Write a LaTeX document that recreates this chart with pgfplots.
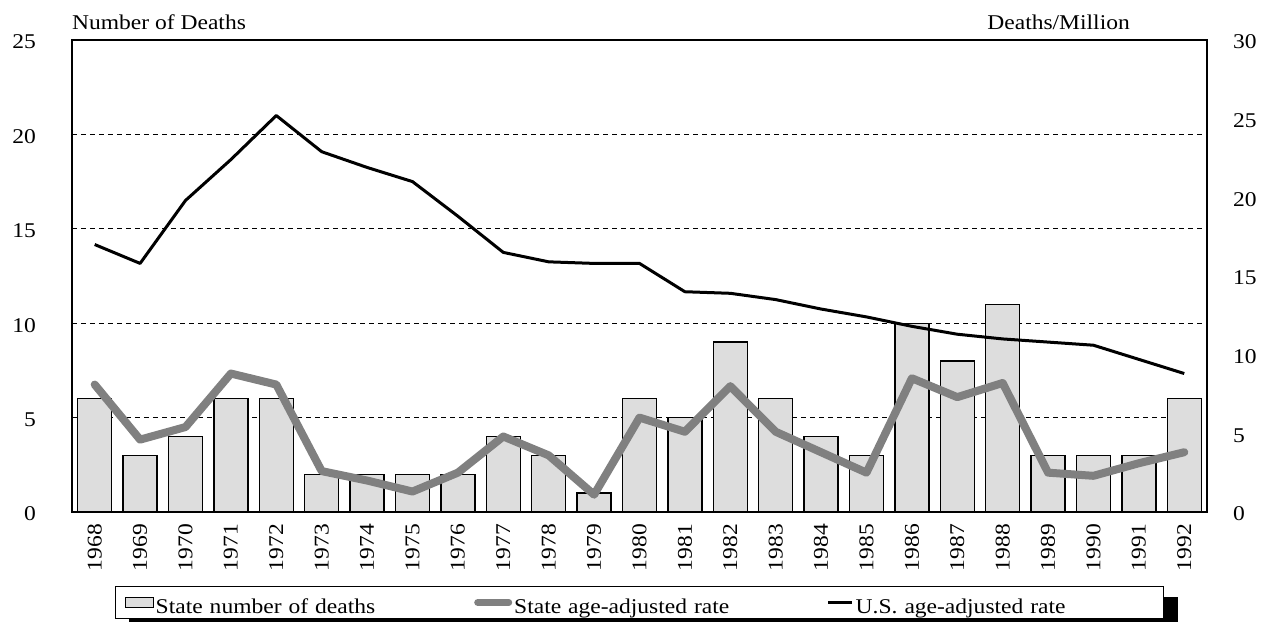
\documentclass[border=0pt]{standalone}
\usepackage{fontspec}
\setmainfont{Liberation Serif}[FakeStretch=1.12]
\usepackage{pgfplots}
\usepackage{pgfplotstable}
\pgfplotsset{compat=1.18}
\usetikzlibrary{calc}
\definecolor{barfill}{HTML}{DDDDDD}
\definecolor{stategray}{HTML}{808080}
\pgfplotstableread{
i n state us
0 6 8.1 17.0
1 3 4.6 15.8
2 4 5.4 19.8
3 6 8.8 22.4
4 6 8.1 25.2
5 2 2.6 22.9
6 2 2.0 21.9
7 2 1.3 21.0
8 2 2.5 18.8
9 4 4.8 16.5
10 3 3.6 15.9
11 1 1.1 15.8
12 6 6.0 15.8
13 5 5.1 14.0
14 9 8.0 13.9
15 6 5.1 13.5
16 4 3.8 12.9
17 3 2.5 12.4
18 10 8.5 11.8
19 8 7.3 11.3
20 11 8.2 11.0
21 3 2.5 10.8
22 3 2.3 10.6
23 3 3.1 9.7
24 6 3.8 8.8
}\datatable
\begin{document}
\fontsize{21bp}{25bp}\selectfont
\begin{tikzpicture}
\pgfplotsset{
  common/.style={
    scale only axis, width=1135bp, height=472bp,
    xmin=-0.5, xmax=24.5,
    major tick length=0pt,
    /pgf/number format/assume math mode=true,
    tick label style={font=\fontsize{21bp}{25bp}\selectfont},
    axis line style={line width=1.5bp},
  }
}
\begin{axis}[common, name=a,
  ymin=0, ymax=25, ytick={0,5,...,25},
  ymajorgrids, grid style={black, line width=1.4bp, dash pattern=on 5bp off 4bp},
  ytick pos=left, xtick pos=bottom,
  xtick={0,...,24},
  xticklabels={1968,1969,1970,1971,1972,1973,1974,1975,1976,1977,1978,1979,1980,1981,1982,1983,1984,1985,1986,1987,1988,1989,1990,1991,1992},
  xticklabel style={yshift=-12bp, rotate=90, anchor=east, inner sep=0pt},
  yticklabel style={anchor=east, inner sep=0pt, xshift=-36bp, yshift=-2bp},
  ybar, bar width=0.75]
\addplot[fill=barfill, draw=black, line width=1.3bp] table[x=i, y=n] {\datatable};
\end{axis}
% legend shadow (drawn behind the legend box)
\fill[black] ($(a.south west)+(57bp,-85bp)$) rectangle ($(a.south west)+(1106bp,-120bp)$);
\begin{axis}[common,
  ymin=0, ymax=30, ytick={0,5,...,30},
  axis y line*=right, axis x line=none,
  yticklabel style={anchor=west, inner sep=0pt, xshift=26bp, yshift=-2bp},
  legend columns=3,
  legend style={at={(0.0379,-0.1568)}, anchor=north west,
    draw=black, line width=1bp, fill=white,
    inner xsep=9bp, inner ysep=1bp,
    column sep=0pt, row sep=0pt,
    font=\fontsize{21bp}{25bp}\selectfont,
    nodes={inner xsep=2bp, inner ysep=1bp, text height=25bp, text depth=3bp}},
  ]
\addlegendimage{legend image code/.code={\path[draw=none, fill=none] (0bp,-5bp) rectangle (28bp,5bp); \draw[fill=barfill, draw=black, line width=1.2bp] (0bp,-5bp) rectangle (28bp,5bp);}}
\addlegendentry[text width=316bp]{State number of deaths}
\addplot[stategray, line width=8bp, line join=round, line cap=round,
  legend image code/.code={\path[draw=none, fill=none] (0bp,-5bp) rectangle (38bp,5bp); \draw[stategray, line width=7bp, line cap=round] (4bp,0bp) -- (35bp,0bp);}]
  table[x=i, y=state] {\datatable};
\addlegendentry[text width=311bp]{State age-adjusted rate}
\addplot[black, line width=3bp, line join=round,
  legend image code/.code={\path[draw=none, fill=none] (0bp,-5bp) rectangle (24bp,5bp); \draw[black, line width=2.5bp] (0bp,0bp) -- (24bp,0bp);}]
  table[x=i, y=us] {\datatable};
\addlegendentry[text width=297bp]{U.S. age-adjusted rate}
\end{axis}
\node[anchor=base west, inner sep=0pt] at ($(a.north west)+(0bp,10bp)$) {Number of Deaths};
\node[anchor=base east, inner sep=0pt] at ($(a.north west)+(1058bp,10bp)$) {Deaths/Million};
\pgfresetboundingbox
\path[use as bounding box] ($(a.south west)+(-72bp,-110bp)$) rectangle ($(a.south west)+(1190bp,512bp)$);
\end{tikzpicture}
\end{document}
